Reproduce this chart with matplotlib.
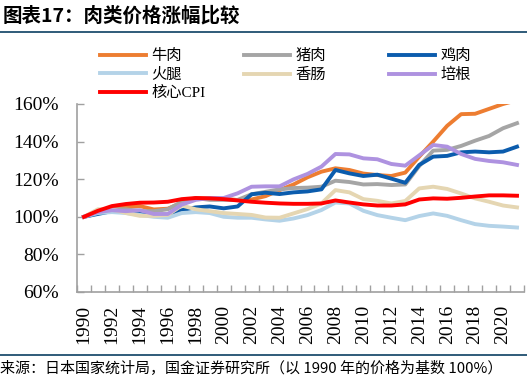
import matplotlib
matplotlib.use("Agg")
import matplotlib.pyplot as plt
from matplotlib.lines import Line2D
import numpy as np

plt.rcParams['font.family'] = ['Liberation Serif', 'Noto Sans CJK SC', 'DejaVu Sans']

years = list(range(1990, 2022))
beef = [100, 102, 104.4, 105.3, 105.7, 103.9, 104.3, 107.5, 109.8, 109.8, 109.6, 108.9, 109.2, 111,
        114.2, 117.2, 121, 124, 125.8, 124.9, 123, 122.2, 121.7, 123.5, 132, 140, 148.4, 154.6, 154.8,
        157.4, 160, 162]
pork = [100, 103, 104, 104, 103, 103, 104, 108, 110, 109, 109, 109, 112, 113.3,
        114.6, 115.3, 115.5, 116, 119.2, 118.5, 117.2, 117.4, 116.9, 117.2, 127, 135.2, 135.6, 137.7,
        140.5, 143, 147.1, 149.8]
chicken = [100, 101.5, 103, 102.5, 101.5, 100.5, 101, 103.5, 105, 105.5, 104.5, 105.5, 112, 112.8,
           112.1, 113, 113.5, 114.6, 124.9, 123.1, 121.7, 122.4, 120.3, 118.1, 127.6, 132, 132.4, 134.3,
           134.7, 134.3, 134.7, 137.3]
ham = [100, 102, 102.5, 102, 101, 100, 99.5, 102, 102.5, 102, 100, 99.5, 99.5, 98.6,
       97.9, 99.1, 100.9, 103.6, 107.6, 107.1, 103.2, 100.9, 99.5, 98.2, 100.4, 101.8, 100.5, 98.2,
       96.1, 95.2, 94.8, 94.3]
sausage = [100, 104, 104, 102, 100.5, 100.5, 101, 106, 104, 103, 102, 101.5, 101, 99.6,
           99.5, 101.8, 104.1, 107.1, 114.2, 113, 109.4, 108.5, 107.1, 108.4, 115.1, 116, 114.8, 112.4,
           109.8, 108, 106, 105]
bacon = [100, 102.5, 103.5, 103, 103.5, 101.5, 101.5, 106.5, 109, 110, 110, 112.5, 116, 116.2,
         116.2, 119.9, 122.8, 126.7, 133.4, 133.2, 131.1, 130.6, 128.1, 127.2, 132.7, 138.2, 137.3, 133.4,
         130.8, 129.7, 129, 127.6]
cpi = [100, 103.2, 105.7, 106.8, 107.5, 107.6, 108, 109.4, 110, 109.8, 109.4, 108.7, 108, 107.5,
       107.1, 106.9, 106.9, 107.1, 108.7, 107.6, 106.6, 106, 106, 106.6, 109.2, 109.8, 109.6, 110.1,
       110.8, 111.4, 111.4, 111.2]

yticks = [60, 80, 100, 120, 140, 160]
ytick_labels = [f"{v}%" for v in yticks]

series = [
    ("牛肉", beef, "#ED7D31"),
    ("猪肉", pork, "#A5A5A5"),
    ("鸡肉", chicken, "#0B5CAD"),
    ("火腿", ham, "#B4D3E8"),
    ("香肠", sausage, "#E5D6B2"),
    ("培根", bacon, "#AE92E0"),
    ("核心CPI", cpi, "#FF0000"),
]

W, H = 527, 390
fig = plt.figure(figsize=(W / 100, H / 100), dpi=100)
ax = fig.add_axes([77 / W, 1 - 292 / H, (524 - 77) / W, (292 - 104) / H])

x = np.arange(len(years))
handles = {}
for name, vals, col in series:
    ln, = ax.plot(x, vals, color=col, lw=2.8, solid_joinstyle='round', clip_on=True)
    handles[name] = ln

ax.set_xlim(-0.5, len(years) - 0.5)
ax.set_ylim(60, 160)
ax.set_yticks(yticks)
ax.set_yticklabels(ytick_labels, fontsize=14, family='Liberation Serif')

ax.set_xticks(np.arange(-0.5, len(years), 1.0))
ax.set_xticklabels([])
lab_idx = [i for i, y in enumerate(years) if y % 2 == 0]
ax.set_xticks(lab_idx, minor=True)
ax.set_xticklabels([str(years[i]) for i in lab_idx], minor=True, rotation=90,
                   fontsize=14, family='Liberation Serif')
ax.tick_params(axis='x', which='major', direction='in', length=5, color='#A0A0A0', width=1)
ax.tick_params(axis='x', which='minor', length=0, pad=9)
ax.tick_params(axis='y', direction='in', length=5, color='#A0A0A0', width=1, pad=13)

for s in ['top', 'right']:
    ax.spines[s].set_visible(False)
for s in ['left', 'bottom']:
    ax.spines[s].set_color('#A0A0A0')
    ax.spines[s].set_linewidth(1.2)

# legends: three columns
cols = [["牛肉", "火腿", "核心CPI"], ["猪肉", "香肠"], ["鸡肉", "培根"]]
xpos = [100, 244, 389]
for names, xp in zip(cols, xpos):
    fig.legend([handles[n] for n in names], names, loc='upper left',
               bbox_to_anchor=(xp / W, 1 - 49 / H), frameon=False,
               prop={'family': ['Liberation Serif', 'Noto Sans CJK SC'], 'size': 11},
               handlelength=3.0, handletextpad=0.35, labelspacing=0.3,
               borderpad=0, borderaxespad=0)

fig.text(3 / W, 1 - 16 / H, "图表17：肉类价格涨幅比较", fontsize=14, fontweight='bold',
         family=['Noto Sans CJK SC'], va='center', ha='left')
fig.add_artist(Line2D([0, 1], [1 - 31.5 / H, 1 - 31.5 / H], color='#1F4E6E', lw=1.3,
                      transform=fig.transFigure))
fig.add_artist(Line2D([0, 1], [1 - 355 / H, 1 - 355 / H], color='#1F4E6E', lw=1.3,
                      transform=fig.transFigure))
fig.text(0, 1 - 369 / H, "来源：日本国家统计局，国金证券研究所（以 1990 年的价格为基数 100%）",
         fontsize=10.8, family=['Noto Sans CJK SC'], va='center', ha='left')

fig.savefig("out.png", dpi=100)
